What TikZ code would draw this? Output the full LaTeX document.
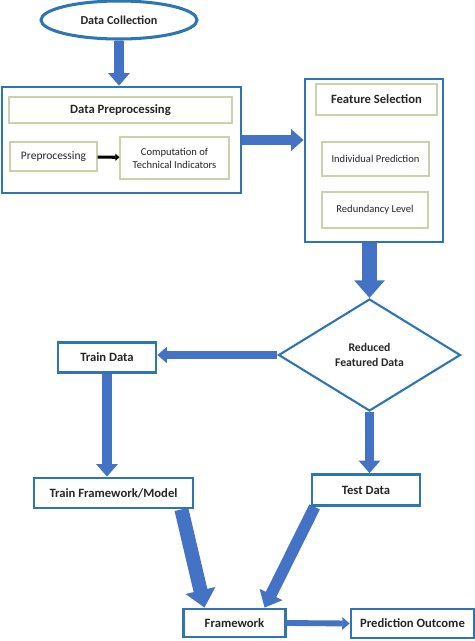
\documentclass[tikz,border=0pt]{standalone}
\usepackage{fontspec}
\setmainfont{Carlito}
\usetikzlibrary{arrows.meta,shapes.geometric,calc,backgrounds}
\definecolor{boxc}{HTML}{2E75B6}
\definecolor{arrc}{HTML}{4472C4}
\definecolor{softc}{HTML}{C9D2A8}
\definecolor{txtc}{HTML}{262626}
\tikzset{
  sz/.style 2 args={minimum width=#1*0.03cm,minimum height=#2*0.03cm},
  bluebox/.style={draw=boxc,line width=2.4pt,fill=white,inner sep=0pt},
  softbox/.style={draw=softc,line width=1pt,fill=white,inner sep=0pt},
  ttl/.style={font=\bfseries\fontsize{10.8}{12.5}\selectfont},
  fat/.style={draw=arrc,line width=#1,-{Triangle[length=0pt 1.25,width=0pt 2.1]}},
  fat/.default=8.5pt,
}
\begin{document}
\begin{tikzpicture}[x=0.03cm,y=-0.03cm,font=\fontsize{9}{11}\selectfont,text=txtc]
  \useasboundingbox (0,0) rectangle (475,641);
  % top part
  \node[bluebox,ellipse,line width=2.6pt,sz={156}{38},font=\bfseries\fontsize{10.4}{12}\selectfont] (dc) at (119,20) {Data Collection};
  \node[bluebox,sz={239}{106}] (dp) at (121.5,140) {};
  \node[softbox,sz={223}{26},ttl] (dpt) at (120.5,110) {Data Preprocessing};
  \node[softbox,sz={87}{29},font=\fontsize{9.8}{11}\selectfont] (pre) at (53.5,156.5) {Preprocessing};
  \node[softbox,sz={109}{42},align=center] (cti) at (174.5,158) {Computation of\\Technical Indicators};
  \node[bluebox,sz={138}{163}] (fs) at (374,160.5) {};
  \node[softbox,sz={121}{31},ttl] (fst) at (376.5,99.5) {Feature Selection};
  \node[softbox,sz={107}{34}] (ip) at (375.5,159) {Individual Prediction};
  \node[softbox,sz={106}{36}] (rl) at (375,210) {Redundancy Level};
  % middle and bottom
  \node[bluebox,diamond,line width=1.8pt,sz={182}{112},align=center,font=\bfseries\fontsize{10}{12.5}\selectfont] (rfd) at (369.5,355) {Reduced\\Featured Data};
  \node[bluebox,sz={98}{30},ttl] (td) at (107,357.5) {Train Data};
  \node[bluebox,sz={159}{30},ttl] (tfm) at (113.5,493) {Train Framework/Model};
  \node[bluebox,sz={108}{31},ttl] (ted) at (366,490) {Test Data};
  \node[bluebox,sz={102}{28},ttl] (fw) at (234.5,623) {Framework};
  \node[bluebox,sz={123}{29},ttl] (po) at (412.5,623.5) {Prediction Outcome};
  \draw[line width=2.6pt,-{Triangle[length=3.5pt,width=6pt]}] (pre) -- (cti);
  \begin{scope}[on background layer]
    \draw[fat] (dc.south) -- (dc.south |- dp.north);
    \draw[fat] (dp.east) -- (fs.west |- dp.east);
    \draw[fat=12pt] (fs.south -| rfd.north) -- (rfd.north);
    \draw[fat=6.5pt] (rfd.west) -- (td.east |- rfd.west);
    \draw[fat] (td.south) -- (td.south |- tfm.north);
    \draw[fat] (rfd.south) -- (rfd.south |- ted.north);
    \draw[fat=12pt] ($(tfm.south east)+(-13,0)$) -- ($(fw.north)+(-30,0)$);
    \draw[fat=10pt] ($(ted.south west)+(4,0)$) -- ($(fw.north)+(30,0)$);
    \draw[fat=5pt] (fw.east) -- (po.west);
  \end{scope}
\end{tikzpicture}
\end{document}
